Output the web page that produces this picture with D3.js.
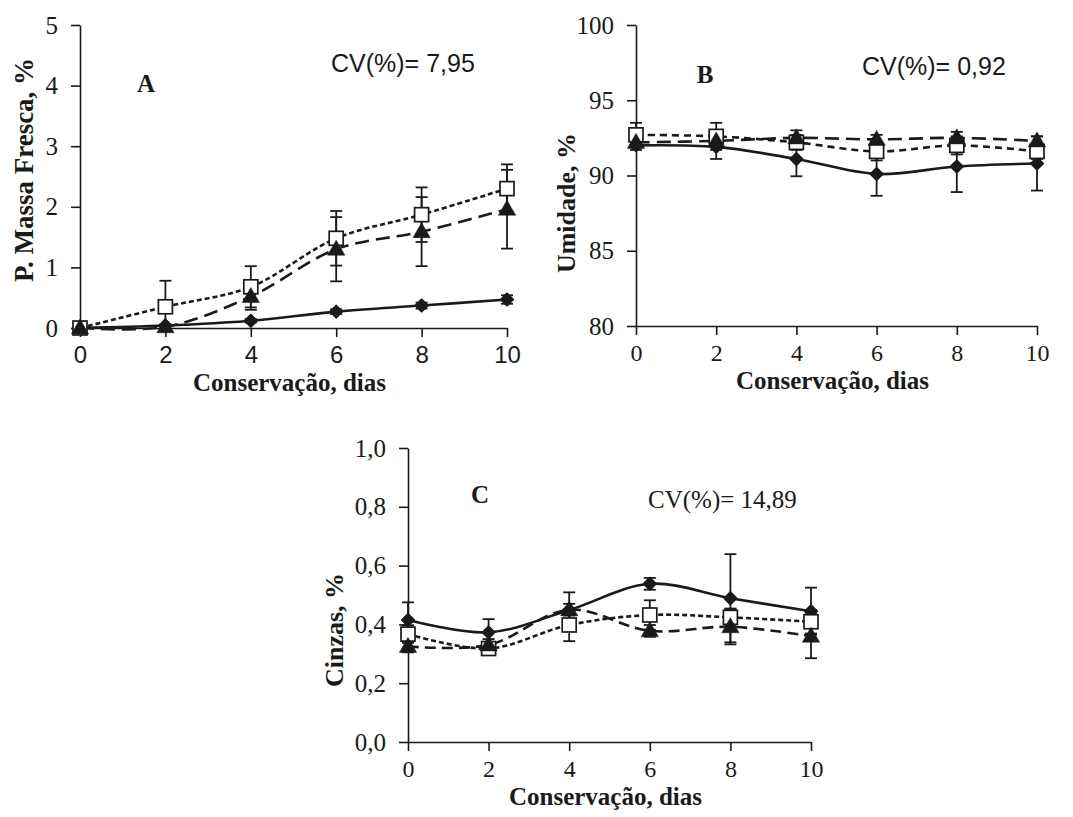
<!DOCTYPE html>
<html>
<head>
<meta charset="utf-8">
<script src="https://cdn.jsdelivr.net/npm/d3@7"></script>
<style>
  body { margin: 0; background: #fff; }
  svg { display: block; }
</style>
</head>
<body>
<svg id="svg" width="1073" height="817"></svg>
<script>
// dias de conservacao
var days = [0, 2, 4, 6, 8, 10];
var xTicks = [0, 2, 4, 6, 8, 10];

// A - perda de massa fresca (%)
var massaDiamond = [0, 0.04, 0.12, 0.27, 0.37, 0.47];
var massaDiamondErr = [0.02, 0.02, 0.03, 0.04, 0.05, 0.07];
var massaSquare = [0, 0.35, 0.68, 1.48, 1.87, 2.3];
var massaSquareErr = [0.02, 0.43, 0.34, 0.45, 0.45, 0.4];
var massaTriangle = [0, 0.02, 0.52, 1.3, 1.59, 1.96];
var massaTriangleErr = [0.02, 0.03, 0.22, 0.53, 0.57, 0.65];
var massaTicks = [0, 1, 2, 3, 4, 5];

// B - umidade (%)
var umidDiamond = [92.0, 91.9, 91.1, 90.1, 90.6, 90.8];
var umidDiamondErr = [0.3, 0.8, 1.15, 1.45, 1.7, 1.8];
var umidSquare = [92.7, 92.6, 92.2, 91.6, 92.0, 91.6];
var umidSquareErr = [0.8, 0.9, 0.5, 0.6, 0.6, 0.5];
var umidTriangle = [92.2, 92.3, 92.5, 92.4, 92.5, 92.3];
var umidTriangleErr = [0.3, 0.4, 0.5, 0.3, 0.4, 0.3];
var umidTicks = [80, 85, 90, 95, 100];

// C - cinzas (%)
var cinzDiamond = [0.415, 0.373, 0.449, 0.538, 0.489, 0.445];
var cinzDiamondErr = [0.06, 0.045, 0.06, 0.02, 0.15, 0.08];
var cinzSquare = [0.367, 0.318, 0.398, 0.432, 0.424, 0.409];
var cinzSquareErr = [0.03, 0.02, 0.055, 0.05, 0.03, 0.04];
var cinzTriangle = [0.325, 0.33, 0.45, 0.378, 0.392, 0.36];
var cinzTriangleErr = [0.02, 0.02, 0.02, 0.02, 0.06, 0.075];
var cinzTicks = [0, 0.2, 0.4, 0.6, 0.8, 1.0];

var SERIF = "'Liberation Serif', 'Times New Roman', serif";
var SANS = "'Liberation Sans', Arial, sans-serif";
var INK = "#1a1a1a";

var svg = d3.select("#svg");

function drawPanel(p) {
  let g = svg.append("g");
  let x = d3.scaleLinear().domain([0, 10]).range([p.left, p.right]);
  let y = d3.scaleLinear().domain(p.domain).range([p.bottom, p.top]);

  // axes
  let xAxis = d3.axisBottom(x).tickValues(xTicks).tickSize(9).tickSizeOuter(0).tickFormat(d3.format("d"));
  let yAxis = d3.axisLeft(y).tickValues(p.ticks).tickSize(9).tickSizeOuter(0).tickFormat(p.fmt);

  let gx = g.append("g").attr("transform", "translate(0," + p.bottom + ")").call(xAxis);
  let gy = g.append("g").attr("transform", "translate(" + p.left + ",0)").call(yAxis);
  [gx, gy].forEach(function(a) {
    a.select(".domain").attr("stroke", INK).attr("stroke-width", 1.6);
    a.selectAll(".tick line").attr("stroke", INK).attr("stroke-width", 1.6);
  });
  gx.selectAll(".tick text")
    .attr("y", 35).attr("dy", null)
    .style("font-family", p.xFont).style("font-size", "24px").attr("fill", INK);
  gy.selectAll(".tick text")
    .attr("x", -22)
    .style("font-family", SERIF).style("font-size", "25px").attr("fill", INK);

  // axis titles
  g.append("text")
    .attr("x", (p.left + p.right) / 2 - 4).attr("y", p.bottom + 63)
    .attr("text-anchor", "middle")
    .style("font-family", SERIF).style("font-weight", "bold").style("font-size", "25px")
    .attr("fill", INK)
    .text("Conservação, dias");
  g.append("text")
    .attr("transform", "translate(" + p.yTitleX + "," + p.yTitleY + ") rotate(-90)")
    .attr("text-anchor", "middle")
    .style("font-family", SERIF).style("font-weight", "bold").style("font-size", p.yTitleSize)
    .attr("fill", INK)
    .text(p.yTitle);

  // panel letter and CV
  g.append("text")
    .attr("x", p.letterX).attr("y", p.letterY)
    .attr("text-anchor", "middle")
    .style("font-family", SERIF).style("font-weight", "bold").style("font-size", "25px")
    .attr("fill", INK)
    .text(p.letter);
  g.append("text")
    .attr("x", p.cvX).attr("y", p.cvY)
    .style("font-family", p.cvFont).style("font-size", p.cvSize)
    .attr("fill", INK)
    .text(p.cv);

  let line = d3.line()
    .x((d, i) => x(days[i]))
    .y(d => y(d))
    .curve(d3.curveCatmullRom.alpha(0.5));

  p.series.forEach(function(s) {
    g.append("path")
      .datum(s.values)
      .attr("fill", "none")
      .attr("stroke", INK)
      .attr("stroke-width", 2.6)
      .attr("stroke-dasharray", s.dash)
      .attr("d", line);
  });

  p.series.forEach(function(s) {
    let eb = g.append("g").attr("stroke", INK).attr("stroke-width", 1.8);
    s.values.forEach(function(v, i) {
      let lo = Math.max(p.domain[0], v - s.err[i]);
      let hi = v + s.err[i];
      let cx = x(days[i]);
      eb.append("line").attr("x1", cx).attr("x2", cx).attr("y1", y(lo)).attr("y2", y(hi));
      eb.append("line").attr("x1", cx - 6).attr("x2", cx + 6).attr("y1", y(hi)).attr("y2", y(hi));
      if (lo > p.domain[0]) {
        eb.append("line").attr("x1", cx - 6).attr("x2", cx + 6).attr("y1", y(lo)).attr("y2", y(lo));
      }
    });
  });

  p.series.forEach(function(s) {
    let pts = g.append("g");
    s.values.forEach(function(v, i) {
      let cx = x(days[i]), cy = y(v);
      if (s.marker === "square") {
        pts.append("rect")
          .attr("x", cx - 7).attr("y", cy - 7)
          .attr("width", 14).attr("height", 14)
          .attr("fill", "#fff").attr("stroke", INK).attr("stroke-width", 1.7);
      } else if (s.marker === "diamond") {
        pts.append("path")
          .attr("transform", "translate(" + cx + "," + cy + ") rotate(45)")
          .attr("d", d3.symbol().type(d3.symbolSquare).size(72)())
          .attr("fill", INK)
          .attr("stroke", INK).attr("stroke-width", 2).attr("stroke-linejoin", "round");
      } else {
        pts.append("path")
          .attr("transform", "translate(" + cx + "," + (cy + 1) + ")")
          .attr("d", d3.symbol().type(d3.symbolTriangle).size(130)())
          .attr("fill", INK)
          .attr("stroke", INK).attr("stroke-width", 0.5);
      }
    });
  });
}

drawPanel({
  left: 80, right: 507, top: 25, bottom: 328,
  domain: [0, 5], ticks: massaTicks, fmt: d3.format("d"),
  xFont: SANS,
  yTitle: "P. Massa Fresca, %", yTitleX: 33, yTitleY: 170, yTitleSize: "27px",
  letter: "A", letterX: 146, letterY: 92,
  cv: "CV(%)= 7,95", cvX: 331, cvY: 72, cvFont: SANS, cvSize: "25px",
  series: [
    { values: massaDiamond, err: massaDiamondErr, marker: "diamond", dash: null },
    { values: massaSquare, err: massaSquareErr, marker: "square", dash: "5,3" },
    { values: massaTriangle, err: massaTriangleErr, marker: "triangle", dash: "14,7" }
  ]
});

drawPanel({
  left: 636, right: 1037, top: 25, bottom: 326,
  domain: [80, 100], ticks: umidTicks, fmt: d3.format("d"),
  xFont: SERIF,
  yTitle: "Umidade, %", yTitleX: 575, yTitleY: 203, yTitleSize: "26px",
  letter: "B", letterX: 705, letterY: 83,
  cv: "CV(%)= 0,92", cvX: 862, cvY: 75, cvFont: SANS, cvSize: "25px",
  series: [
    { values: umidDiamond, err: umidDiamondErr, marker: "diamond", dash: null },
    { values: umidSquare, err: umidSquareErr, marker: "square", dash: "7,5" },
    { values: umidTriangle, err: umidTriangleErr, marker: "triangle", dash: "14,7" }
  ]
});

drawPanel({
  left: 408, right: 811, top: 448, bottom: 742,
  domain: [0, 1], ticks: cinzTicks, fmt: v => d3.format(".1f")(v).replace(".", ","),
  xFont: SERIF,
  yTitle: "Cinzas, %", yTitleX: 343, yTitleY: 630, yTitleSize: "26px",
  letter: "C", letterX: 480, letterY: 503,
  cv: "CV(%)= 14,89", cvX: 648, cvY: 508, cvFont: SERIF, cvSize: "25px",
  series: [
    { values: cinzDiamond, err: cinzDiamondErr, marker: "diamond", dash: null },
    { values: cinzSquare, err: cinzSquareErr, marker: "square", dash: "5,3" },
    { values: cinzTriangle, err: cinzTriangleErr, marker: "triangle", dash: "11,6" }
  ]
});
</script>
</body>
</html>
